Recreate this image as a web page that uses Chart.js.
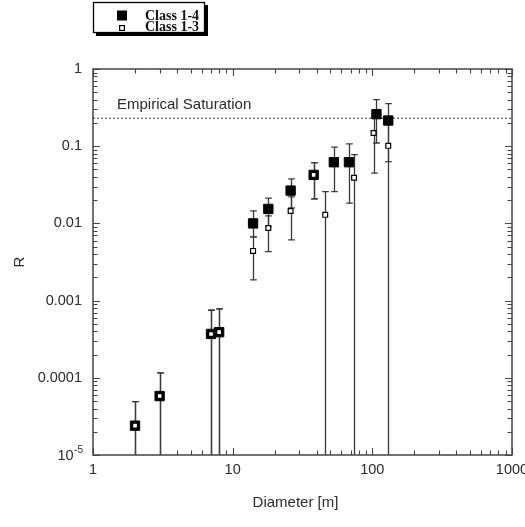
<!DOCTYPE html>
<html>
<head>
<meta charset="utf-8">
<script src="https://cdn.jsdelivr.net/npm/chart.js@4.4.1/dist/chart.umd.min.js"></script>
<style>
  html, body { margin: 0; padding: 0; background: #fff; }
  #wrap { width: 525px; height: 527px; position: relative; }
</style>
</head>
<body>
<div id="wrap"><canvas id="c" width="525" height="527"></canvas></div>
<script>
// Crater diameters [m] and R values, with upper / lower error limits.
// A lower limit of null means the bar runs down to the bottom of the axis.
const diametersClass14 = [2, 3, 7, 8, 14, 18, 26, 38, 53, 68, 107, 130];
const rClass14 = [2.4e-5, 5.8e-5, 3.7e-4, 3.9e-4, 0.010, 0.0154, 0.0266, 0.0425, 0.062, 0.062, 0.26, 0.215];
const rClass14Hi = [4.9e-5, 1.16e-4, 7.5e-4, 7.8e-4, 0.0145, 0.0212, 0.0377, 0.0614, 0.097, 0.107, 0.40, 0.355];
const rClass14Lo = [null, null, null, null, 0.0067, 0.009, 0.0159, 0.0208, 0.0258, 0.0183, 0.11, 0.063];

const diametersClass13 = [2, 3, 7, 8, 14, 18, 26, 38, 46, 74, 102, 130];
const rClass13 = [2.4e-5, 5.8e-5, 3.7e-4, 3.9e-4, 0.0044, 0.0087, 0.0145, 0.0425, 0.0129, 0.039, 0.148, 0.101];
const rClass13Hi = [4.9e-5, 1.16e-4, 7.5e-4, 7.8e-4, 0.0067, 0.0125, 0.022, 0.0614, 0.0258, 0.078, 0.25, 0.2];
const rClass13Lo = [null, null, null, null, 0.00185, 0.0043, 0.0061, 0.0208, null, null, 0.0447, null];

const saturationR = 0.23;
const saturationLabel = 'Empirical Saturation';

const xTickLabels = { 1: '1', 10: '10', 100: '100', 1000: '1000' };
// the 10^-5 label is written with a raised exponent (base, exponent)
const yTickLabels = { '-4': '0.0001', '-3': '0.001', '-2': '0.01', '-1': '0.1', '0': '1' };
const yBottomLabel = ['10', '-5'];

const seriesNames = ['Class 1-4', 'Class 1-3'];
const xTitle = 'Diameter [m]';
const yTitle = 'R';

const INK = '#2b2b2b';
const FRAME = '#444';

function decadeOf(v) {
  const l = Math.log10(v);
  const r = Math.round(l);
  return Math.abs(l - r) < 1e-6 ? r : null;
}

function toPoints(xs, ys) {
  return xs.map((x, i) => ({ x: x, y: ys[i] }));
}

// Vertical error bars with short caps, drawn beneath the markers.
const errorBars = {
  id: 'errorBars',
  beforeDatasetsDraw(chart) {
    const { ctx, chartArea: a, scales: { x: sx, y: sy } } = chart;
    ctx.save();
    ctx.beginPath();
    ctx.rect(a.left, a.top, a.right - a.left, a.bottom - a.top);
    ctx.clip();
    ctx.strokeStyle = '#3a3a3a';
    ctx.lineWidth = 1.3;
    chart.data.datasets.forEach(ds => {
      if (!ds.errHi) return;
      ds.data.forEach((p, i) => {
        const px = Math.round(sx.getPixelForValue(p.x)) + 0.5;
        const top = sy.getPixelForValue(ds.errHi[i]);
        const lo = ds.errLo[i];
        const bot = lo == null ? a.bottom : sy.getPixelForValue(lo);
        ctx.beginPath();
        ctx.moveTo(px, top);
        ctx.lineTo(px, bot);
        ctx.moveTo(px - 3.3, top);
        ctx.lineTo(px + 3.3, top);
        if (lo != null) {
          ctx.moveTo(px - 3.3, bot);
          ctx.lineTo(px + 3.3, bot);
        }
        ctx.stroke();
      });
    });
    ctx.restore();
  }
};

// Plot frame, inward tick marks on all four sides, axis titles, legend box.
const frameAndDecor = {
  id: 'frameAndDecor',
  afterDraw(chart) {
    const { ctx, chartArea: a, scales: { x: sx, y: sy } } = chart;
    ctx.save();
    ctx.strokeStyle = FRAME;
    ctx.lineWidth = 1.5;
    ctx.strokeRect(a.left, a.top, a.right - a.left, a.bottom - a.top);

    ctx.lineWidth = 1.1;
    ctx.beginPath();
    for (let d = 0; d <= 3; d++) {
      for (let m = 1; m <= 9; m++) {
        const v = m * Math.pow(10, d);
        if (v > 1000) break;
        const px = Math.round(sx.getPixelForValue(v)) + 0.5;
        const len = m === 1 ? 7 : 4.5;
        ctx.moveTo(px, a.bottom); ctx.lineTo(px, a.bottom - len);
        ctx.moveTo(px, a.top); ctx.lineTo(px, a.top + len);
      }
    }
    for (let d = -5; d <= 0; d++) {
      for (let m = 1; m <= 9; m++) {
        const v = m * Math.pow(10, d);
        if (v > 1) break;
        const py = Math.round(sy.getPixelForValue(v)) + 0.5;
        const len = m === 1 ? 7 : 4.5;
        ctx.moveTo(a.left, py); ctx.lineTo(a.left + len, py);
        ctx.moveTo(a.right, py); ctx.lineTo(a.right - len, py);
      }
    }
    ctx.stroke();

    ctx.fillStyle = INK;

    // bottom y label: base with a raised exponent
    const yb = sy.getPixelForValue(1e-5);
    ctx.font = "10px 'Liberation Sans', Arial, sans-serif";
    ctx.textAlign = 'right';
    ctx.textBaseline = 'middle';
    const expW = ctx.measureText(yBottomLabel[1]).width;
    const rightEdge = a.left - 10;
    ctx.fillText(yBottomLabel[1], rightEdge, yb - 5);
    ctx.font = "14.5px 'Liberation Sans', Arial, sans-serif";
    ctx.fillText(yBottomLabel[0], rightEdge - expW - 0.5, yb + 1);

    // saturation label, sitting just above the dotted line
    const satY = sy.getPixelForValue(saturationR);
    ctx.font = "15px 'Liberation Sans', Arial, sans-serif";
    ctx.textAlign = 'left';
    ctx.textBaseline = 'alphabetic';
    ctx.fillText(saturationLabel, a.left + 24, satY - 9.5);

    // axis titles
    ctx.textAlign = 'center';
    ctx.textBaseline = 'middle';
    ctx.fillText(xTitle, (a.left + a.right) / 2 - 7, 503);
    ctx.save();
    ctx.translate(20, (a.top + a.bottom) / 2);
    ctx.rotate(-Math.PI / 2);
    ctx.fillText(yTitle, 0, 0);
    ctx.restore();

    // legend box with drop shadow
    const lx = 93, ly = 2, lw = 112, lh = 31;
    ctx.fillStyle = '#000';
    ctx.fillRect(lx + 3, ly + 3, lw, lh);
    ctx.fillStyle = '#fff';
    ctx.fillRect(lx, ly, lw, lh);
    ctx.strokeStyle = '#000';
    ctx.lineWidth = 1.3;
    ctx.strokeRect(lx + 0.5, ly + 0.5, lw - 1, lh - 1);

    ctx.fillStyle = '#000';
    ctx.fillRect(117, 10.5, 10, 10);
    ctx.fillStyle = '#fff';
    ctx.lineWidth = 1.2;
    ctx.fillRect(119.6, 25.6, 4.8, 4.8);
    ctx.strokeRect(119.6, 25.6, 4.8, 4.8);

    ctx.fillStyle = '#111';
    ctx.font = "bold 14px 'Liberation Serif', 'Times New Roman', serif";
    ctx.textAlign = 'left';
    ctx.textBaseline = 'alphabetic';
    ctx.fillText(seriesNames[0], 145, 19.5);
    ctx.fillText(seriesNames[1], 145, 31);
    ctx.restore();
  }
};

Chart.defaults.font.family = "'Liberation Sans', Arial, sans-serif";
Chart.defaults.color = INK;

new Chart(document.getElementById('c'), {
  type: 'scatter',
  data: {
    datasets: [
      {
        label: seriesNames[1],
        data: toPoints(diametersClass13, rClass13),
        errHi: rClass13Hi,
        errLo: rClass13Lo,
        pointStyle: 'rect',
        pointRadius: 3.4,
        pointBackgroundColor: '#fff',
        pointBorderColor: '#000',
        pointBorderWidth: 1.2,
        order: 1
      },
      {
        label: seriesNames[0],
        data: toPoints(diametersClass14, rClass14),
        errHi: rClass14Hi,
        errLo: rClass14Lo,
        pointStyle: 'rect',
        pointRadius: 6.6,
        pointBackgroundColor: '#000',
        pointBorderColor: '#000',
        pointBorderWidth: 1,
        order: 2
      },
      {
        type: 'line',
        label: saturationLabel,
        data: [{ x: 1, y: saturationR }, { x: 1000, y: saturationR }],
        borderColor: '#333',
        borderWidth: 1.2,
        borderDash: [2, 2],
        pointRadius: 0,
        order: 3
      }
    ]
  },
  options: {
    responsive: false,
    devicePixelRatio: 1,
    animation: false,
    events: [],
    layout: { padding: { top: 69, right: 13, left: 0, bottom: 0 } },
    plugins: { legend: { display: false }, tooltip: { enabled: false } },
    scales: {
      x: {
        type: 'logarithmic',
        min: 1,
        max: 1000,
        position: 'bottom',
        grid: { display: false, drawTicks: false },
        border: { display: false },
        ticks: {
          autoSkip: false,
          maxRotation: 0,
          padding: 6,
          color: INK,
          font: { size: 14.5 },
          callback: v => { const d = decadeOf(v); return d == null ? '' : xTickLabels[Math.pow(10, d)]; }
        },
        afterFit(s) { s.height = 72; s.paddingLeft = 0; s.paddingRight = 0; }
      },
      y: {
        type: 'logarithmic',
        min: 1e-5,
        max: 1,
        position: 'left',
        grid: { display: false, drawTicks: false },
        border: { display: false },
        ticks: {
          autoSkip: false,
          padding: 11,
          color: INK,
          font: { size: 14.5 },
          callback: v => { const d = decadeOf(v); return d == null ? '' : (yTickLabels[String(d)] || ''); }
        },
        afterFit(s) { s.width = 93; s.paddingTop = 0; s.paddingBottom = 0; }
      }
    }
  },
  plugins: [errorBars, frameAndDecor]
});
</script>
</body>
</html>
